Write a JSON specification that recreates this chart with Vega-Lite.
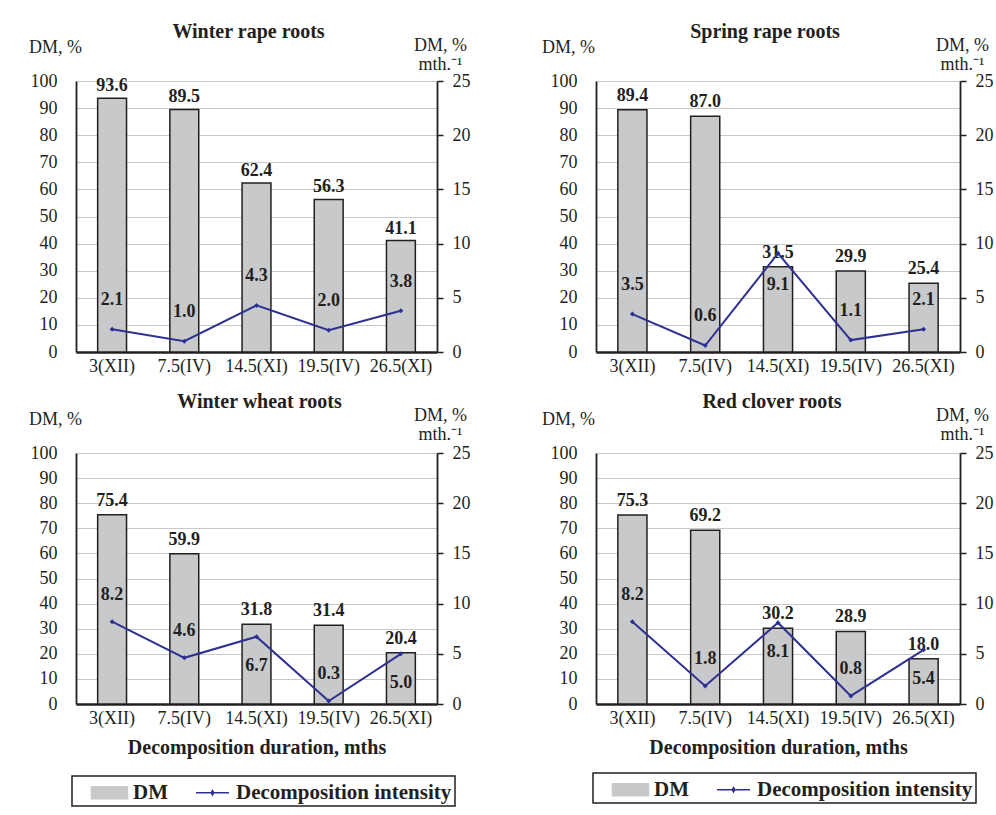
{
  "$schema": "https://vega.github.io/schema/vega-lite/v6.json",
  "background": "white",
  "padding": {"left": 28, "top": 22, "right": 4, "bottom": 4},
  "datasets": {
    "d": [
      {"p": "WR", "t": "3(XII)", "DM": 93.6, "I": 2.1},
      {"p": "WR", "t": "7.5(IV)", "DM": 89.5, "I": 1.0},
      {"p": "WR", "t": "14.5(XI)", "DM": 62.4, "I": 4.3},
      {"p": "WR", "t": "19.5(IV)", "DM": 56.3, "I": 2.0},
      {"p": "WR", "t": "26.5(XI)", "DM": 41.1, "I": 3.8},
      {"p": "SR", "t": "3(XII)", "DM": 89.4, "I": 3.5},
      {"p": "SR", "t": "7.5(IV)", "DM": 87.0, "I": 0.6},
      {"p": "SR", "t": "14.5(XI)", "DM": 31.5, "I": 9.1},
      {"p": "SR", "t": "19.5(IV)", "DM": 29.9, "I": 1.1},
      {"p": "SR", "t": "26.5(XI)", "DM": 25.4, "I": 2.1},
      {"p": "WW", "t": "3(XII)", "DM": 75.4, "I": 8.2},
      {"p": "WW", "t": "7.5(IV)", "DM": 59.9, "I": 4.6},
      {"p": "WW", "t": "14.5(XI)", "DM": 31.8, "I": 6.7},
      {"p": "WW", "t": "19.5(IV)", "DM": 31.4, "I": 0.3},
      {"p": "WW", "t": "26.5(XI)", "DM": 20.4, "I": 5.0},
      {"p": "RC", "t": "3(XII)", "DM": 75.3, "I": 8.2},
      {"p": "RC", "t": "7.5(IV)", "DM": 69.2, "I": 1.8},
      {"p": "RC", "t": "14.5(XI)", "DM": 30.2, "I": 8.1},
      {"p": "RC", "t": "19.5(IV)", "DM": 28.9, "I": 0.8},
      {"p": "RC", "t": "26.5(XI)", "DM": 18.0, "I": 5.4}
    ]
  },
  "config": {
    "font": "Liberation Serif",
    "view": {"stroke": null},
    "title": {"font": "Liberation Serif", "fontSize": 20, "fontWeight": "bold", "color": "#231f20", "anchor": "middle", "offset": -6},
    "axis": {"labelFont": "Liberation Serif", "labelFontSize": 18, "labelColor": "#231f20", "labelOverlap": false, "titleFont": "Liberation Serif", "titleColor": "#231f20"},
    "text": {"font": "Liberation Serif", "fontSize": 18, "fontWeight": "bold", "color": "#231f20"}
  },
  "bounds": "flush",
  "columns": 2,
  "spacing": {"row": 101, "column": 159},
  "resolve": {"scale": {"color": "independent"}, "legend": {"color": "independent"}},
  "concat": [
        {
          "width": 361, "height": 271,
          "title": {"text": "Winter rape roots", "dx": -8},
          "data": {"name": "d"},
          "transform": [{"filter": "datum.p === 'WR'"}],
          "encoding": {"x": {"field": "t", "type": "ordinal", "sort": ["3(XII)", "7.5(IV)", "14.5(XI)", "19.5(IV)", "26.5(XI)"], "scale": {"paddingInner": 0.6, "paddingOuter": 0.3}, "axis": {"domainColor": "#231f20", "domainWidth": 2.5, "ticks": false, "labelPadding": 5, "labelAngle": 0, "title": null}}},
          "layer": [
            {"encoding": {"y": {"field": "DM", "type": "quantitative", "scale": {"domain": [0, 100]}, "axis": {"orient": "left", "values": [0,10,20,30,40,50,60,70,80,90,100], "labelOverlap": false, "grid": true, "gridColor": "#c9c9c9", "gridWidth": 1.2, "domainColor": "#231f20", "domainWidth": 1.8, "ticks": false, "labelPadding": 19, "title": "DM, %", "titleAngle": 0, "titleAlign": "center", "titleBaseline": "alphabetic", "titleX": -21, "titleY": -29, "titleFontSize": 18, "titleFontWeight": "normal"}}},
             "layer": [
              {"mark": {"type": "bar", "fill": "#c8c9cb", "stroke": "#231f20", "strokeWidth": 1.5}},
              {"mark": {"type": "text", "baseline": "middle", "dy": -12},
               "encoding": {"text": {"field": "DM", "type": "quantitative", "format": ".1f"}}}
            ]},
            {"encoding": {"y": {"field": "I", "type": "quantitative", "scale": {"domain": [0, 25]}, "axis": {"orient": "right", "values": [0,5,10,15,20,25], "labelOverlap": false, "grid": false, "domainColor": "#231f20", "domainWidth": 1.8, "ticks": true, "tickSize": 6, "tickColor": "#231f20", "tickWidth": 1.5, "labelPadding": 9, "title": ["DM, %", "mth.⁻¹"], "titleAngle": 0, "titleAlign": "center", "titleBaseline": "alphabetic", "titleX": 3, "titleY": -31, "titleLineHeight": 19, "titleFontSize": 18, "titleFontWeight": "normal"}}},
             "layer": [
              {"mark": {"type": "line", "color": "#2e3192", "strokeWidth": 2, "point": {"shape": "diamond", "size": 25, "filled": true, "color": "#2e3192"}}},
              {"transform": [{"filter": "datum.I * 4 <= datum.DM - 10"}],
               "mark": {"type": "text", "baseline": "middle", "dy": -29},
               "encoding": {"text": {"field": "I", "type": "quantitative", "format": ".1f"}}},
              {"transform": [{"filter": "datum.I * 4 > datum.DM - 10"}],
               "mark": {"type": "text", "baseline": "middle", "dy": 30},
               "encoding": {"text": {"field": "I", "type": "quantitative", "format": ".1f"}}}
            ]}
          ],
          "resolve": {"scale": {"y": "independent"}}
        },
        {
          "width": 364, "height": 271,
          "title": {"text": "Spring rape roots", "dx": -13},
          "data": {"name": "d"},
          "transform": [{"filter": "datum.p === 'SR'"}],
          "encoding": {"x": {"field": "t", "type": "ordinal", "sort": ["3(XII)", "7.5(IV)", "14.5(XI)", "19.5(IV)", "26.5(XI)"], "scale": {"paddingInner": 0.6, "paddingOuter": 0.3}, "axis": {"domainColor": "#231f20", "domainWidth": 2.5, "ticks": false, "labelPadding": 5, "labelAngle": 0, "title": null}}},
          "layer": [
            {"encoding": {"y": {"field": "DM", "type": "quantitative", "scale": {"domain": [0, 100]}, "axis": {"orient": "left", "values": [0,10,20,30,40,50,60,70,80,90,100], "labelOverlap": false, "grid": true, "gridColor": "#c9c9c9", "gridWidth": 1.2, "domainColor": "#231f20", "domainWidth": 1.8, "ticks": false, "labelPadding": 19, "title": "DM, %", "titleAngle": 0, "titleAlign": "center", "titleBaseline": "alphabetic", "titleX": -28, "titleY": -29, "titleFontSize": 18, "titleFontWeight": "normal"}}},
             "layer": [
              {"mark": {"type": "bar", "fill": "#c8c9cb", "stroke": "#231f20", "strokeWidth": 1.5}},
              {"mark": {"type": "text", "baseline": "middle", "dy": -14},
               "encoding": {"text": {"field": "DM", "type": "quantitative", "format": ".1f"}}}
            ]},
            {"encoding": {"y": {"field": "I", "type": "quantitative", "scale": {"domain": [0, 25]}, "axis": {"orient": "right", "values": [0,5,10,15,20,25], "labelOverlap": false, "grid": false, "domainColor": "#231f20", "domainWidth": 1.8, "ticks": true, "tickSize": 6, "tickColor": "#231f20", "tickWidth": 1.5, "labelPadding": 9, "title": ["DM, %", "mth.⁻¹"], "titleAngle": 0, "titleAlign": "center", "titleBaseline": "alphabetic", "titleX": 2, "titleY": -31, "titleLineHeight": 19, "titleFontSize": 18, "titleFontWeight": "normal"}}},
             "layer": [
              {"mark": {"type": "line", "color": "#2e3192", "strokeWidth": 2, "point": {"shape": "diamond", "size": 25, "filled": true, "color": "#2e3192"}}},
              {"transform": [{"filter": "datum.I * 4 <= datum.DM - 10"}],
               "mark": {"type": "text", "baseline": "middle", "dy": -29},
               "encoding": {"text": {"field": "I", "type": "quantitative", "format": ".1f"}}},
              {"transform": [{"filter": "datum.I * 4 > datum.DM - 10"}],
               "mark": {"type": "text", "baseline": "middle", "dy": 32},
               "encoding": {"text": {"field": "I", "type": "quantitative", "format": ".1f"}}}
            ]}
          ],
          "resolve": {"scale": {"y": "independent"}}
        },
        {
          "width": 361, "height": 251,
          "title": {"text": "Winter wheat roots", "dx": 3},
          "data": {"name": "d"},
          "transform": [{"filter": "datum.p === 'WW'"}],
          "encoding": {"x": {"field": "t", "type": "ordinal", "sort": ["3(XII)", "7.5(IV)", "14.5(XI)", "19.5(IV)", "26.5(XI)"], "scale": {"paddingInner": 0.6, "paddingOuter": 0.3}, "axis": {"domainColor": "#231f20", "domainWidth": 2.5, "ticks": false, "labelPadding": 5, "labelAngle": 0, "title": "Decomposition duration,  mths", "titleFontSize": 20, "titleFontWeight": "bold", "titlePadding": 10}}},
          "layer": [
            {"encoding": {"y": {"field": "DM", "type": "quantitative", "scale": {"domain": [0, 100]}, "axis": {"orient": "left", "values": [0,10,20,30,40,50,60,70,80,90,100], "labelOverlap": false, "grid": true, "gridColor": "#c9c9c9", "gridWidth": 1.2, "domainColor": "#231f20", "domainWidth": 1.8, "ticks": false, "labelPadding": 19, "title": "DM, %", "titleAngle": 0, "titleAlign": "center", "titleBaseline": "alphabetic", "titleX": -21, "titleY": -29, "titleFontSize": 18, "titleFontWeight": "normal"}}},
             "layer": [
              {"mark": {"type": "bar", "stroke": "#231f20", "strokeWidth": 1.5},
               "encoding": {
                 "color": {"datum": "DM", "type": "nominal", "scale": {"domain": ["DM", "Decomposition intensity"], "range": ["#c8c9cb", "#2e3192"]},
                   "legend": {"orient": "none", "legendX": -4, "legendY": 323, "direction": "horizontal", "title": null, "strokeColor": "#231f20", "padding": 3, "symbolSize": 625, "symbolOffset": 21, "labelOffset": 10, "columnPadding": 10, "labelLimit": 400, "labelFont": "Liberation Serif", "labelFontSize": 21, "labelFontWeight": "bold", "labelColor": "#231f20",
                     "encoding": {
                       "legend": {"strokeWidth": {"value": 1.5}},
                       "symbols": {
                         "shape": {"condition": {"test": "datum.value === 'DM'", "value": "M-1.44,-0.48H1.44V0.48H-1.44Z"}, "value": "M-1.32,0H1.32M0,-0.18L0.1,0L0,0.18L-0.1,0Z"},
                         "fill": {"condition": {"test": "datum.value === 'DM'", "value": "#c8c9cb"}, "value": "#2e3192"},
                         "stroke": {"condition": {"test": "datum.value === 'DM'", "value": "#231f20"}, "value": "#2e3192"},
                         "strokeWidth": {"value": 1.5},
                         "opacity": {"value": 1}
                       }
                     }}}
               }},
              {"mark": {"type": "text", "baseline": "middle", "dy": -14},
               "encoding": {"text": {"field": "DM", "type": "quantitative", "format": ".1f"}}}
            ]},
            {"encoding": {"y": {"field": "I", "type": "quantitative", "scale": {"domain": [0, 25]}, "axis": {"orient": "right", "values": [0,5,10,15,20,25], "labelOverlap": false, "grid": false, "domainColor": "#231f20", "domainWidth": 1.8, "ticks": true, "tickSize": 6, "tickColor": "#231f20", "tickWidth": 1.5, "labelPadding": 9, "title": ["DM, %", "mth.⁻¹"], "titleAngle": 0, "titleAlign": "center", "titleBaseline": "alphabetic", "titleX": 3, "titleY": -33, "titleLineHeight": 19, "titleFontSize": 18, "titleFontWeight": "normal"}}},
             "layer": [
              {"mark": {"type": "line", "strokeWidth": 2, "point": {"shape": "diamond", "size": 25, "filled": true}},
               "encoding": {"color": {"datum": "Decomposition intensity", "type": "nominal"}}},
              {"transform": [{"filter": "datum.I * 4 <= datum.DM - 10"}],
               "mark": {"type": "text", "baseline": "middle", "dy": -27},
               "encoding": {"text": {"field": "I", "type": "quantitative", "format": ".1f"}}},
              {"transform": [{"filter": "datum.I * 4 > datum.DM - 10"}],
               "mark": {"type": "text", "baseline": "middle", "dy": 29},
               "encoding": {"text": {"field": "I", "type": "quantitative", "format": ".1f"}}}
            ]}
          ],
          "resolve": {"scale": {"y": "independent"}}
        },
        {
          "width": 364, "height": 251,
          "title": {"text": "Red clover roots", "dx": -6},
          "data": {"name": "d"},
          "transform": [{"filter": "datum.p === 'RC'"}],
          "encoding": {"x": {"field": "t", "type": "ordinal", "sort": ["3(XII)", "7.5(IV)", "14.5(XI)", "19.5(IV)", "26.5(XI)"], "scale": {"paddingInner": 0.6, "paddingOuter": 0.3}, "axis": {"domainColor": "#231f20", "domainWidth": 2.5, "ticks": false, "labelPadding": 5, "labelAngle": 0, "title": "Decomposition duration, mths", "titleFontSize": 20, "titleFontWeight": "bold", "titlePadding": 10}}},
          "layer": [
            {"encoding": {"y": {"field": "DM", "type": "quantitative", "scale": {"domain": [0, 100]}, "axis": {"orient": "left", "values": [0,10,20,30,40,50,60,70,80,90,100], "labelOverlap": false, "grid": true, "gridColor": "#c9c9c9", "gridWidth": 1.2, "domainColor": "#231f20", "domainWidth": 1.8, "ticks": false, "labelPadding": 19, "title": "DM, %", "titleAngle": 0, "titleAlign": "center", "titleBaseline": "alphabetic", "titleX": -28, "titleY": -29, "titleFontSize": 18, "titleFontWeight": "normal"}}},
             "layer": [
              {"mark": {"type": "bar", "stroke": "#231f20", "strokeWidth": 1.5},
               "encoding": {
                 "color": {"datum": "DM", "type": "nominal", "scale": {"domain": ["DM", "Decomposition intensity"], "range": ["#c8c9cb", "#2e3192"]},
                   "legend": {"orient": "none", "legendX": -3, "legendY": 320, "direction": "horizontal", "title": null, "strokeColor": "#231f20", "padding": 3, "symbolSize": 625, "symbolOffset": 21, "labelOffset": 10, "columnPadding": 10, "labelLimit": 400, "labelFont": "Liberation Serif", "labelFontSize": 21, "labelFontWeight": "bold", "labelColor": "#231f20",
                     "encoding": {
                       "legend": {"strokeWidth": {"value": 1.5}},
                       "symbols": {
                         "shape": {"condition": {"test": "datum.value === 'DM'", "value": "M-1.44,-0.48H1.44V0.48H-1.44Z"}, "value": "M-1.32,0H1.32M0,-0.18L0.1,0L0,0.18L-0.1,0Z"},
                         "fill": {"condition": {"test": "datum.value === 'DM'", "value": "#c8c9cb"}, "value": "#2e3192"},
                         "stroke": {"condition": {"test": "datum.value === 'DM'", "value": "#231f20"}, "value": "#2e3192"},
                         "strokeWidth": {"value": 1.5},
                         "opacity": {"value": 1}
                       }
                     }}}
               }},
              {"mark": {"type": "text", "baseline": "middle", "dy": -14},
               "encoding": {"text": {"field": "DM", "type": "quantitative", "format": ".1f"}}}
            ]},
            {"encoding": {"y": {"field": "I", "type": "quantitative", "scale": {"domain": [0, 25]}, "axis": {"orient": "right", "values": [0,5,10,15,20,25], "labelOverlap": false, "grid": false, "domainColor": "#231f20", "domainWidth": 1.8, "ticks": true, "tickSize": 6, "tickColor": "#231f20", "tickWidth": 1.5, "labelPadding": 9, "title": ["DM, %", "mth.⁻¹"], "titleAngle": 0, "titleAlign": "center", "titleBaseline": "alphabetic", "titleX": 2, "titleY": -33, "titleLineHeight": 19, "titleFontSize": 18, "titleFontWeight": "normal"}}},
             "layer": [
              {"mark": {"type": "line", "strokeWidth": 2, "point": {"shape": "diamond", "size": 25, "filled": true}},
               "encoding": {"color": {"datum": "Decomposition intensity", "type": "nominal"}}},
              {"transform": [{"filter": "datum.I * 4 <= datum.DM - 10"}],
               "mark": {"type": "text", "baseline": "middle", "dy": -27},
               "encoding": {"text": {"field": "I", "type": "quantitative", "format": ".1f"}}},
              {"transform": [{"filter": "datum.I * 4 > datum.DM - 10"}],
               "mark": {"type": "text", "baseline": "middle", "dy": 29},
               "encoding": {"text": {"field": "I", "type": "quantitative", "format": ".1f"}}}
            ]}
          ],
          "resolve": {"scale": {"y": "independent"}}
        }
  ]
}
